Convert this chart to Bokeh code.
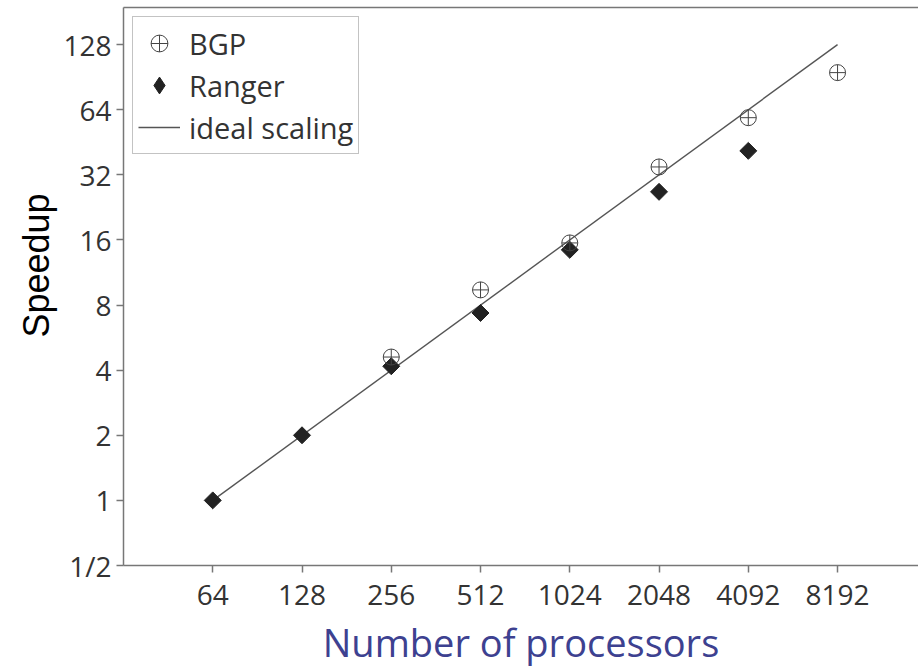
import numpy as np
from bokeh.plotting import figure
from bokeh.models import (Range1d, FixedTicker, CustomJSTickFormatter, Legend, LegendItem,
                          LogAxis, Title)
from bokeh.embed import file_html
from bokeh.resources import INLINE

# ---- data ----
bgp_procs = [256, 512, 1024, 2048, 4096, 8192]
bgp_speedup = [4.6, 9.4, 15.5, 34.8, 58.8, 95.0]

ranger_procs = [64, 128, 256, 512, 1024, 2048, 4096]
ranger_speedup = [1.0, 2.0, 4.17, 7.35, 14.4, 26.7, 41.3]

ideal_procs = [64, 8192]
ideal_speedup = [1, 128]

x_ticks = [64, 128, 256, 512, 1024, 2048, 4096, 8192]
x_tick_labels = ["64", "128", "256", "512", "1024", "2048", "4092", "8192"]
y_ticks = [0.5, 1, 2, 4, 8, 16, 32, 64, 128]
y_tick_labels = ["1/2", "1", "2", "4", "8", "16", "32", "64", "128"]

FONT = "Open Sans"
AXIS_GRAY = "#777777"

p = figure(width=918, height=670, x_axis_type="log", y_axis_type="log",
           x_range=Range1d(32, 15360), y_range=Range1d(0.5, 190),
           output_backend="svg", toolbar_location=None,
           min_border_left=123, min_border_right=0, min_border_top=7, min_border_bottom=105)

p.outline_line_color = None
p.xgrid.visible = False
p.ygrid.visible = False
p.background_fill_color = "white"
p.border_fill_color = "white"

xax = p.below[0]
yax = p.left[0]

fmt_code = """
for (let i = 0; i < t.length; i++) {
  if (Math.abs(t[i] - tick) < 1e-6 * t[i]) return l[i];
}
return '';
"""
xax.ticker = FixedTicker(ticks=x_ticks, minor_ticks=[])
xax.formatter = CustomJSTickFormatter(args=dict(t=x_ticks, l=x_tick_labels), code=fmt_code)
yax.ticker = FixedTicker(ticks=y_ticks, minor_ticks=[])
yax.formatter = CustomJSTickFormatter(args=dict(t=y_ticks, l=y_tick_labels), code=fmt_code)

for ax in (xax, yax):
    ax.axis_line_color = AXIS_GRAY
    ax.axis_line_width = 1.5
    ax.major_tick_line_color = AXIS_GRAY
    ax.major_tick_line_width = 1.5
    ax.major_tick_out = 7
    ax.major_tick_in = 0
    ax.minor_tick_line_color = None
    ax.major_label_text_font = FONT
    ax.major_label_text_font_size = "28px"
    ax.major_label_text_color = "#333333"

xax.major_label_standoff = 12
yax.major_label_standoff = 5

xax.axis_label = "Number of processors"
xax.axis_label_text_font = FONT
xax.axis_label_text_font_size = "38px"
xax.axis_label_text_font_style = "normal"
xax.axis_label_text_color = "#3d4190"
xax.axis_label_standoff = 8

# top frame line (the reference shows no right border)
top_axis = LogAxis(ticker=FixedTicker(ticks=[], minor_ticks=[]),
                   axis_line_color=AXIS_GRAY, axis_line_width=1.5,
                   major_tick_line_color=None, minor_tick_line_color=None,
                   major_label_text_font_size="0px", major_label_standoff=0,
                   major_tick_out=0, major_tick_in=0)
p.add_layout(top_axis, "above")

# y-axis title, positioned a little above the frame centre as in the reference
ytitle = Title(text="Speedup", align="left", offset=228, vertical_align="middle",
               text_font="Liberation Sans", text_font_size="36px",
               text_font_style="normal", text_color="#000000", standoff=6)
p.add_layout(ytitle, "left")

r_ideal = p.line(ideal_procs, ideal_speedup, line_color="#555555", line_width=1.4)
# diamond glyph (hidden under the square markers) used as the legend key
r_ranger_key = p.scatter(ranger_procs, ranger_speedup, marker="diamond", size=14,
                         fill_color="#222222", line_color="#222222", line_width=1)
r_ranger = p.scatter(ranger_procs, ranger_speedup, marker="square", angle=np.pi / 4,
                     size=12, fill_color="#222222", line_color="#222222", line_width=1)
r_bgp = p.scatter(bgp_procs, bgp_speedup, marker="circle_cross", size=16,
                  fill_color=None, line_color="#444444", line_width=1)

legend = Legend(items=[
    LegendItem(label="BGP", renderers=[r_bgp]),
    LegendItem(label="Ranger", renderers=[r_ranger_key]),
    LegendItem(label="ideal scaling", renderers=[r_ideal]),
], location="top_left")
legend.margin = 9
legend.padding = 5
legend.spacing = 0
legend.glyph_width = 42
legend.glyph_height = 42
legend.label_height = 42
legend.label_standoff = 9
legend.label_text_font = FONT
legend.label_text_font_size = "29px"
legend.label_text_color = "#333333"
legend.border_line_color = "#888888"
legend.border_line_width = 1.5
legend.background_fill_color = "white"
legend.background_fill_alpha = 1.0
p.add_layout(legend)

open("out.html", "w").write(file_html(p, INLINE))
